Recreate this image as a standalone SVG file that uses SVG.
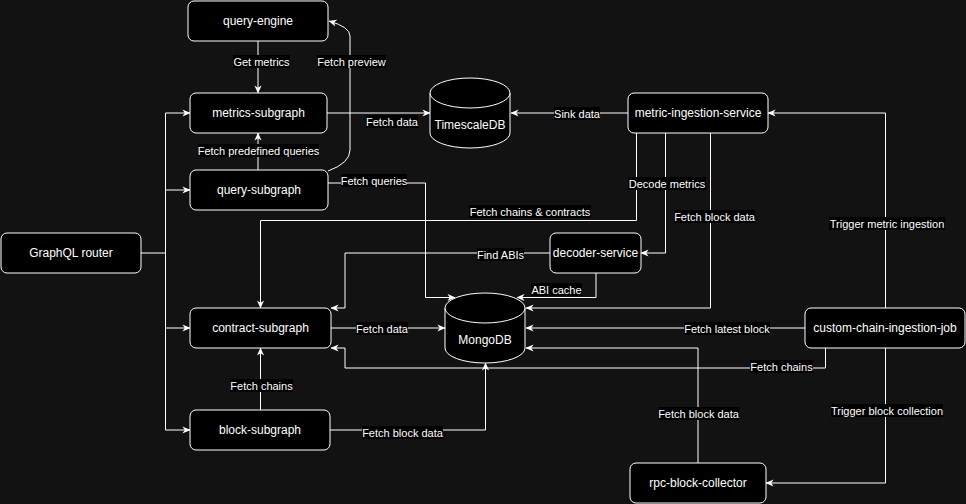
<svg xmlns="http://www.w3.org/2000/svg" width="966" height="504" viewBox="0 0 966 504">
<defs>
<marker id="ar" viewBox="0 0 10 10" refX="9.5" refY="5" markerWidth="8" markerHeight="8" orient="auto" markerUnits="userSpaceOnUse">
<path d="M0,0.5 L10,5 L0,9.5 L3,5 Z" fill="#ffffff"/>
</marker>
<style>
.n rect,.n path{fill:#000;stroke:#ffffff;stroke-width:1}
.n text{fill:#fff;font-family:"Liberation Sans",Arial,sans-serif;font-size:12px;text-anchor:middle;dominant-baseline:central}
.e path{fill:none;stroke:#ffffff;stroke-width:1}
.e .a{marker-end:url(#ar)}
.l rect{fill:#000}
.l text{fill:#fff;font-family:"Liberation Sans",Arial,sans-serif;font-size:11px;text-anchor:middle;dominant-baseline:central}
</style>
</defs>
<rect x="0" y="0" width="966" height="504" fill="#121212"/>

<g id="connectors" class="e">
<path class="a" d="M258,41 L258,93"/>
<path class="a" d="M328,171 Q350,163 350,150 L350,36 Q350,27 329,21"/>
<path class="a" d="M327,113 L430,113"/>
<path class="a" d="M628,113 L511,113"/>
<path class="a" d="M258,170 L258,133"/>
<path class="a" d="M328,183 L425.5,183 L425.5,297.5 L455,297.5"/>
<path class="a" d="M636.5,133 L636.5,220.5 L260.5,220.5 L260.5,308"/>
<path class="a" d="M665.5,133 L665.5,253 L641,253"/>
<path class="a" d="M710.5,133 L710.5,308 L526,308"/>
<path class="a" d="M550,253 L345,253 L345,308 L331,308"/>
<path class="a" d="M596,273 L596,297.5 L517,297.5"/>
<path class="a" d="M330,328 L445,328"/>
<path class="a" d="M805,328 L526,328"/>
<path class="a" d="M825.5,348 L825.5,368 L345,368 L345,348 L331,348"/>
<path class="a" d="M698,463 L698,348 L526,348"/>
<path class="a" d="M330,430 L485.5,430 L485.5,363"/>
<path class="a" d="M260.5,410 L260.5,348"/>
<path class="a" d="M885.5,308 L885.5,113 L768,113"/>
<path class="a" d="M885.5,348 L885.5,483 L766,483"/>
<path d="M141,253 L165.5,253 M165.5,113 L165.5,430"/>
<path class="a" d="M165.5,113 L190,113"/>
<path class="a" d="M165.5,190 L190,190"/>
<path class="a" d="M165.5,328 L190,328"/>
<path class="a" d="M165.5,430 L190,430"/>
</g>

<g id="labels" class="l">
<rect x="233" y="55" width="57" height="13"/><text x="261.5" y="61.5">Get metrics</text>
<rect x="317" y="55" width="69" height="13"/><text x="351.5" y="61.5">Fetch preview</text>
<rect x="366" y="115" width="52" height="13"/><text x="392" y="121.5">Fetch data</text>
<rect x="198" y="144" width="121" height="13"/><text x="258.5" y="150.5">Fetch predefined queries</text>
<rect x="341" y="174" width="66" height="13"/><text x="374" y="180.5">Fetch queries</text>
<rect x="554" y="107" width="46" height="13"/><text x="577" y="113.5">Sink data</text>
<rect x="469" y="205" width="122" height="13"/><text x="530" y="211.5">Fetch chains &amp; contracts</text>
<rect x="628" y="177" width="78" height="13"/><text x="667" y="183.5">Decode metrics</text>
<rect x="674" y="210" width="81" height="13"/><text x="714.5" y="216.5">Fetch block data</text>
<rect x="829" y="217" width="116" height="13"/><text x="887" y="223.5">Trigger metric ingestion</text>
<rect x="477" y="248" width="47" height="13"/><text x="500.5" y="254.5">Find ABIs</text>
<rect x="531" y="283" width="51" height="13"/><text x="556.5" y="289.5">ABI cache</text>
<rect x="356" y="322" width="52" height="13"/><text x="382" y="328.5">Fetch data</text>
<rect x="684" y="322" width="86" height="13"/><text x="727" y="328.5">Fetch latest block</text>
<rect x="750" y="360" width="63" height="13"/><text x="781.5" y="366.5">Fetch chains</text>
<rect x="658" y="407" width="81" height="13"/><text x="698.5" y="413.5">Fetch block data</text>
<rect x="831" y="404" width="112" height="13"/><text x="887" y="410.5">Trigger block collection</text>
<rect x="230" y="379" width="63" height="13"/><text x="261.5" y="385.5">Fetch chains</text>
<rect x="362" y="426" width="81" height="13"/><text x="402.5" y="432.5">Fetch block data</text>
</g>

<g id="query-engine" class="n"><rect x="188" y="1" width="140" height="40" rx="6"/><text x="258" y="21">query-engine</text></g>
<g id="metrics-subgraph" class="n"><rect x="190" y="93" width="137" height="40" rx="6"/><text x="258.5" y="113">metrics-subgraph</text></g>
<g id="query-subgraph" class="n"><rect x="190" y="170" width="138" height="40" rx="6"/><text x="259" y="190">query-subgraph</text></g>
<g id="graphql-router" class="n"><rect x="1" y="233" width="140" height="40" rx="6"/><text x="71" y="253">GraphQL router</text></g>
<g id="contract-subgraph" class="n"><rect x="190" y="308" width="141" height="40" rx="6"/><text x="260.5" y="328">contract-subgraph</text></g>
<g id="block-subgraph" class="n"><rect x="190" y="410" width="140" height="40" rx="6"/><text x="260" y="430">block-subgraph</text></g>
<g id="timescaledb" class="n"><path d="M430,93 A40,15 0 0 1 510,93 L510,133 A40,15 0 0 1 430,133 Z"/><path d="M430,93 A40,15 0 0 0 510,93" fill="none"/><text x="470" y="125">TimescaleDB</text></g>
<g id="mongodb" class="n"><path d="M445,308 A40,15 0 0 1 525,308 L525,348 A40,15 0 0 1 445,348 Z"/><path d="M445,308 A40,15 0 0 0 525,308" fill="none"/><text x="485" y="340">MongoDB</text></g>
<g id="metric-ingestion-service" class="n"><rect x="628" y="93" width="140" height="40" rx="6"/><text x="698" y="113">metric-ingestion-service</text></g>
<g id="decoder-service" class="n"><rect x="550" y="233" width="91" height="40" rx="6"/><text x="595.5" y="253">decoder-service</text></g>
<g id="custom-chain-ingestion-job" class="n"><rect x="805" y="308" width="160" height="40" rx="6"/><text x="885" y="328">custom-chain-ingestion-job</text></g>
<g id="rpc-block-collector" class="n"><rect x="630" y="463" width="136" height="40" rx="6"/><text x="698" y="483">rpc-block-collector</text></g>
</svg>
